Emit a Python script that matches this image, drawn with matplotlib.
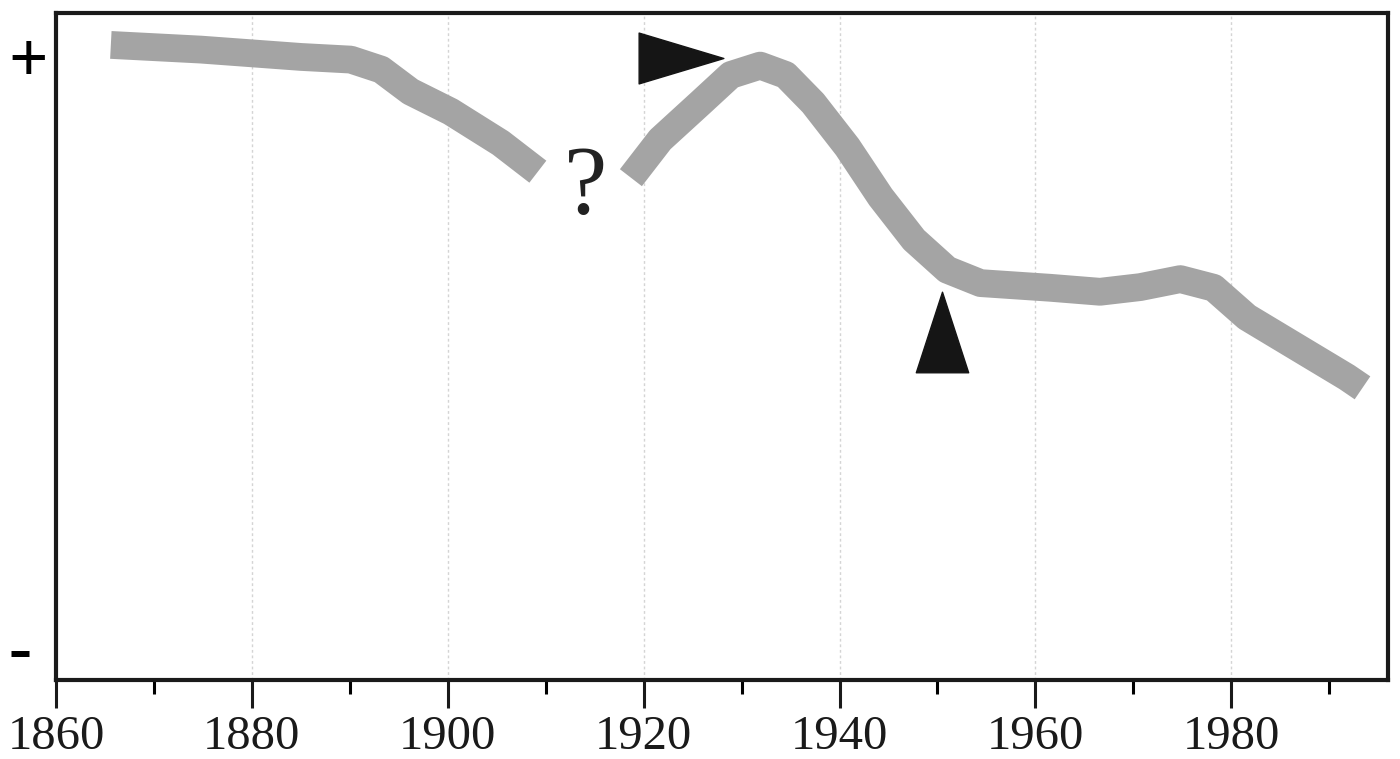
import matplotlib.pyplot as plt
from matplotlib.path import Path

# curve before the gap
years_a = [1865.6, 1874.8, 1885.0, 1890.1, 1893.2, 1896.2, 1900.3, 1905.4, 1909.2]
vals_a = [0.952, 0.945, 0.934, 0.930, 0.915, 0.882, 0.852, 0.805, 0.762]

# curve after the gap
years_b = [1918.7, 1921.7, 1925.8, 1928.9, 1931.9, 1934.5, 1937.3, 1940.8, 1944.2,
           1947.6, 1951.0, 1954.4, 1961.5, 1966.6, 1970.7, 1974.8, 1978.2, 1981.6,
           1985.0, 1988.4, 1991.8, 1993.4]
vals_b = [0.753, 0.810, 0.865, 0.907, 0.921, 0.907, 0.865, 0.799, 0.724,
          0.660, 0.615, 0.595, 0.588, 0.582, 0.589, 0.601, 0.588, 0.544,
          0.514, 0.484, 0.454, 0.438]

# triangle pointers
right_tri = (1923.8, 0.933)
up_tri = (1950.5, 0.522)
question = (1914.1, 0.735)

major_years = [1860, 1880, 1900, 1920, 1940, 1960, 1980]
minor_years = [1870, 1890, 1910, 1930, 1950, 1970, 1990]

fig = plt.figure(figsize=(14, 7.59), dpi=100)
ax = fig.add_axes([0.04, 0.104, 0.9514, 0.879])

for yr in major_years[1:]:
    ax.axvline(yr, color="#d4d4d4", lw=1.0, ls=(0, (2, 2)), zorder=0)

band = dict(color="#a4a4a4", lw=20, solid_capstyle="butt", solid_joinstyle="round", zorder=2)
ax.plot(years_a, vals_a, **band)
ax.plot(years_b, vals_b, **band)

right_marker = Path([(-1, -0.6), (1, 0), (-1, 0.6), (-1, -0.6)],
                    [Path.MOVETO, Path.LINETO, Path.LINETO, Path.CLOSEPOLY])
up_marker = Path([(-0.65, -1), (0, 1), (0.65, -1), (-0.65, -1)],
                 [Path.MOVETO, Path.LINETO, Path.LINETO, Path.CLOSEPOLY])
ax.plot(*right_tri, marker=right_marker, markersize=61, color="#151515", zorder=3)
ax.plot(*up_tri, marker=up_marker, markersize=58, color="#151515", zorder=3)

ax.text(question[0], question[1], "?", fontsize=70, family="Liberation Serif",
        ha="center", va="center", color="#222222")

ax.set_xlim(1860, 1996)
ax.set_ylim(0, 1)
ax.set_xticks(major_years)
ax.set_xticks(minor_years, minor=True)
ax.set_xticklabels([str(y) for y in major_years], family="Liberation Serif", fontsize=35)
ax.tick_params(axis="x", which="major", direction="out", length=20, width=2.2, pad=5,
               colors="#1a1a1a")
ax.tick_params(axis="x", which="minor", direction="out", length=10, width=2.2)
ax.set_yticks([0.05, 0.935])
ax.set_yticklabels(["-", "+"], family="Liberation Serif", fontsize=50, fontweight="bold")
ax.tick_params(axis="y", length=0, pad=6)
ax.get_yticklabels()[0].set_x(-0.012)

for s in ax.spines.values():
    s.set_linewidth(3)
    s.set_color("#1a1a1a")

fig.savefig("out.png", dpi=100)
